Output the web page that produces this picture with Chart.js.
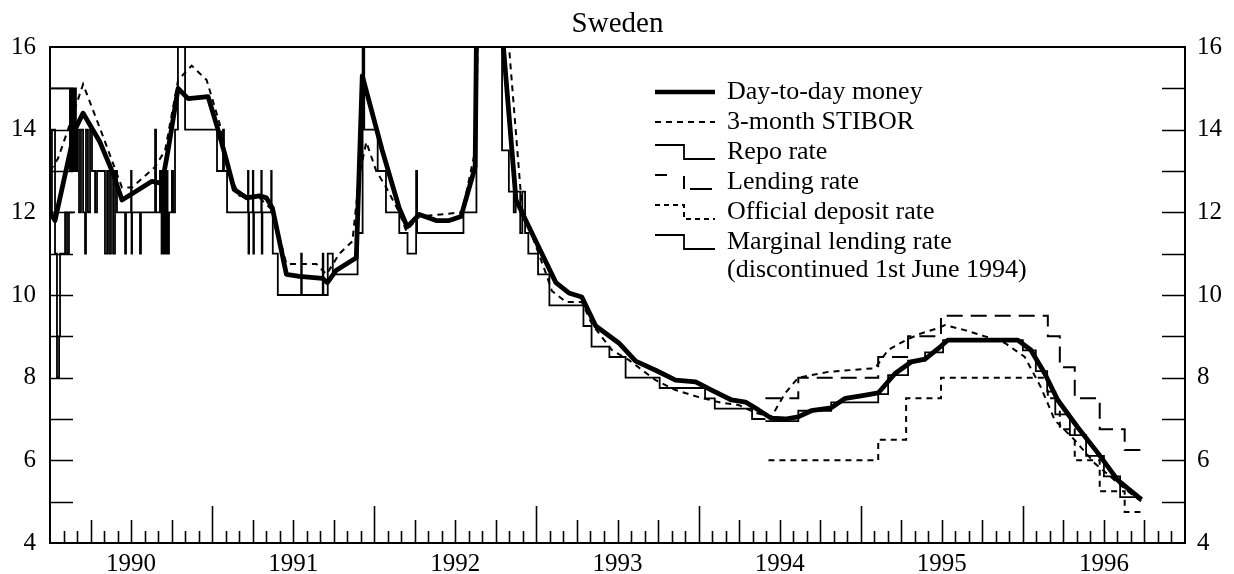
<!DOCTYPE html>
<html>
<head>
<meta charset="utf-8">
<script src="https://cdn.jsdelivr.net/npm/chart.js@4.4.0/dist/chart.umd.min.js"></script>
<style>
html, body { margin: 0; padding: 0; background: #fff; }
</style>
</head>
<body>
<canvas id="myChart" width="1234" height="574"></canvas>
<script>
// Day-to-day money
var dtdYears = [1990.000, 1990.031, 1990.154, 1990.204, 1990.308, 1990.388, 1990.444, 1990.506, 1990.629, 1990.691,
  1990.728, 1990.790, 1990.852, 1990.975, 1991.036, 1991.089, 1991.136, 1991.212, 1991.292,
  1991.335, 1991.372, 1991.458, 1991.538, 1991.680, 1991.711, 1991.766, 1991.889, 1991.926, 1992.049,
  1992.154, 1992.203, 1992.277, 1992.382, 1992.462, 1992.535, 1992.622, 1992.640, 1992.775, 1992.790, 1992.874,
  1992.972, 1993.120, 1993.200, 1993.280, 1993.366, 1993.508, 1993.612, 1993.735, 1993.858, 1993.982,
  1994.080, 1994.203, 1994.289, 1994.369, 1994.449, 1994.535, 1994.615, 1994.695, 1994.818, 1994.905,
  1995.003, 1995.108, 1995.212, 1995.311, 1995.397, 1995.477, 1995.538, 1995.969, 1996.049, 1996.135,
  1996.215, 1996.338, 1996.462, 1996.585, 1996.732];
var dtdValues = [12.0, 11.8, 14.0, 14.4, 13.7, 12.95, 12.3, 12.45, 12.75, 12.7,
  13.5, 15.0, 14.75, 14.8, 14.0, 13.25, 12.55, 12.35, 12.4,
  12.35, 12.1, 10.5, 10.45, 10.4, 10.3, 10.6, 10.9, 15.3, 13.5,
  12.1, 11.65, 11.95, 11.8, 11.8, 11.9, 13.1, 20, 20, 16.3, 12.3,
  11.5, 10.3, 10.05, 9.95, 9.25, 8.84, 8.4, 8.18, 7.94, 7.9,
  7.7, 7.46, 7.41, 7.22, 7.02, 7.0, 7.05, 7.2, 7.27, 7.5,
  7.56, 7.63, 8.1, 8.38, 8.45, 8.7, 8.91, 8.91, 8.67, 8.1,
  7.46, 6.8, 6.18, 5.52, 5.05];

// 3-month STIBOR
var stiborYears = [1990.000, 1990.049, 1990.111, 1990.204, 1990.321, 1990.444, 1990.506, 1990.648, 1990.710,
  1990.790, 1990.874, 1990.966, 1991.046, 1991.108, 1991.169, 1991.292, 1991.372, 1991.458, 1991.643,
  1991.705, 1991.785, 1991.865, 1991.908, 1991.951, 1992.012, 1992.074, 1992.154, 1992.197, 1992.277,
  1992.542, 1992.628, 1992.652, 1992.788, 1992.831, 1992.911, 1993.058, 1993.095, 1993.182, 1993.280,
  1993.342, 1993.465, 1993.569, 1993.735, 1993.858, 1994.000, 1994.142, 1994.246, 1994.351, 1994.449,
  1994.535, 1994.615, 1994.800, 1995.089, 1995.169, 1995.274, 1995.372, 1995.477, 1995.520, 1995.643,
  1995.766, 1995.889, 1996.012, 1996.111, 1996.197, 1996.320, 1996.443, 1996.566, 1996.665, 1996.732];
var stiborValues = [13.0, 13.3, 14.0, 15.1, 13.9, 12.6, 12.6, 13.1, 13.5,
  15.2, 15.55, 15.2, 14.15, 12.9, 12.4, 12.35, 12.05, 10.75, 10.75,
  10.5, 11.0, 11.3, 12.9, 13.7, 13.0, 12.6, 12.0, 11.55, 11.9,
  12.0, 13.6, 20, 20, 16, 12.1, 10.53, 10.1, 9.83, 9.83,
  9.3, 8.67, 8.43, 7.94, 7.7, 7.53, 7.39, 7.34, 7.15, 7.05,
  7.63, 8.0, 8.14, 8.23, 8.67, 8.9, 9.07, 9.2, 9.27, 9.15,
  9.0, 8.84, 8.5, 7.77, 6.97, 6.49, 5.93, 5.52, 5.2, 5.0];

// Repo rate (step, value holds until next date)
var repoYears = [1990.000, 1990.012, 1990.031, 1990.043, 1990.056, 1990.062, 1990.093, 1990.105, 1990.117, 1990.154, 1990.155,
  1994.412, 1994.615, 1994.818, 1995.108, 1995.169, 1995.292, 1995.397, 1995.508, 1996.000, 1996.080,
  1996.150, 1996.200, 1996.290, 1996.390, 1996.500, 1996.600, 1996.732];
var repoValues = [12, 14, 11, 8, 9, 11, 12, 11, 12, 12, null,
  6.95, 7.2, 7.4, 7.6, 8.06, 8.41, 8.61, 8.91, 8.66, 8.16,
  7.66, 7.11, 6.61, 6.11, 5.61, 5.11, 5.11];

// Lending rate (step)
var lendYears = [1994.412, 1994.615, 1995.108, 1995.292, 1995.495, 1996.154, 1996.228, 1996.320, 1996.474, 1996.628, 1996.738];
var lendValues = [7.5, 8.0, 8.5, 9.0, 9.5, 9.0, 8.25, 7.5, 6.75, 6.25, 6.25];

// Official deposit rate (step)
var depYears = [1994.431, 1995.108, 1995.280, 1995.495, 1996.154, 1996.228, 1996.320, 1996.474, 1996.628, 1996.738];
var depValues = [6.0, 6.5, 7.5, 8.0, 7.5, 6.75, 6.0, 5.25, 4.75, 4.75];

// Marginal lending rate (step, discontinued 1 June 1994)
var margYears = [1990.000, 1990.123, 1990.133, 1990.142, 1990.151, 1990.160, 1990.167, 1990.179, 1990.191, 1990.204,
  1990.216, 1990.222, 1990.234, 1990.247, 1990.259, 1990.278, 1990.290, 1990.339, 1990.352, 1990.364,
  1990.376, 1990.389, 1990.401, 1990.413, 1990.463, 1990.469, 1990.500, 1990.503, 1990.506, 1990.555,
  1990.561, 1990.648, 1990.654, 1990.678, 1990.688, 1990.697, 1990.706, 1990.715, 1990.725, 1990.734,
  1990.752, 1990.759, 1990.771, 1990.789, 1990.833, 1991.030, 1991.067, 1991.073, 1991.092,
  1991.221, 1991.224, 1991.228, 1991.251, 1991.254, 1991.258, 1991.303, 1991.306, 1991.310, 1991.364,
  1991.367, 1991.374, 1991.405, 1991.549, 1991.553, 1991.682, 1991.686, 1991.713, 1991.744, 1991.897,
  1991.928, 1991.938, 1992.021, 1992.072, 1992.154, 1992.205, 1992.258, 1992.264, 1992.550, 1992.630,
  1992.788, 1992.830, 1992.860, 1992.872, 1992.900, 1992.913, 1992.930, 1992.950, 1993.010, 1993.080,
  1993.290, 1993.340, 1993.450, 1993.550, 1993.760, 1994.040, 1994.100, 1994.330, 1994.412];
var margValues = [15, 13, 15, 13, 15, 13, 14, 12, 14, 12,
  11, 14, 12, 14, 13, 12, 13, 11, 13, 11,
  13, 11, 13, 12, 11, 12, 13, 11, 12, 11,
  12, 14, 12, 13, 11, 13, 11, 13, 11, 12,
  13, 12, 14, 20, 14, 13, 14, 13, 12,
  13, 11, 12, 13, 11, 12, 13, 11, 12, 13,
  12, 11, 10, 11, 10, 11, 10, 11, 10.5, 11.5,
  20, 14, 13, 12, 11.5, 11, 13, 11.5, 12, 20,
  13.5, 12.5, 12.0, 12.5, 11.5, 12.5, 11.5, 11.0, 10.5, 9.75,
  9.25, 8.75, 8.5, 8.0, 7.75, 7.5, 7.25, 7.0, 7.0];

var yearLabels = ['1990', '1991', '1992', '1993', '1994', '1995', '1996'];
var yTickLabels = [4, 6, 8, 10, 12, 14, 16];

var legendLabels = ['Day-to-day money', '3-month STIBOR', 'Repo rate', 'Lending rate',
  'Official deposit rate', 'Marginal lending rate', '(discontinued 1st June 1994)'];

function toPoints(xs, vs) {
  return xs.map(function (x, i) { return { x: x, y: vs[i] }; });
}

var serif = '"Liberation Serif", "Times New Roman", serif';

var decorations = {
  id: 'decorations',
  afterDraw: function (chart) {
    var ctx = chart.ctx, area = chart.chartArea;
    var xs = chart.scales.x, ys = chart.scales.y;
    ctx.save();
    ctx.strokeStyle = '#000';
    ctx.fillStyle = '#000';
    ctx.lineWidth = 2;
    ctx.beginPath();
    ctx.moveTo(area.left, area.top);
    ctx.lineTo(area.right, area.top);
    ctx.stroke();

    // inward y ticks, every integer, both sides
    ctx.lineWidth = 1.6;
    for (var v = 5; v <= 15; v++) {
      var py = Math.round(ys.getPixelForValue(v)) + 0.5;
      ctx.beginPath();
      ctx.moveTo(area.left, py); ctx.lineTo(area.left + 23, py);
      ctx.moveTo(area.right - 23, py); ctx.lineTo(area.right, py);
      ctx.stroke();
    }
    // inward x ticks: months, quarters, years
    for (var m = 1; m < 84; m++) {
      var px = Math.round(xs.getPixelForValue(1990 + m / 12)) + 0.5;
      var len = (m % 12 === 0) ? 37 : ((m % 3 === 0) ? 23 : 12);
      ctx.beginPath();
      ctx.moveTo(px, area.bottom);
      ctx.lineTo(px, area.bottom - len);
      ctx.stroke();
    }

    // title
    ctx.font = '29px ' + serif;
    ctx.textAlign = 'center';
    ctx.textBaseline = 'middle';
    ctx.fillText('Sweden', (area.left + area.right) / 2, 24);

    // legend
    ctx.font = '26px ' + serif;
    var rows = [92, 122, 152, 182, 212, 242, 270];
    var x0 = 655, x1 = 715, xm = 684;
    ctx.textAlign = 'left';
    for (var i = 0; i < legendLabels.length; i++) {
      ctx.fillText(legendLabels[i], 727, rows[i]);
    }
    var y;
    // day-to-day
    y = rows[0];
    ctx.setLineDash([]);
    ctx.lineWidth = 4.5;
    ctx.beginPath(); ctx.moveTo(x0, y); ctx.lineTo(x1, y); ctx.stroke();
    // stibor
    y = rows[1];
    ctx.lineWidth = 2;
    ctx.setLineDash([6, 5]);
    ctx.beginPath(); ctx.moveTo(x0, y); ctx.lineTo(x1, y); ctx.stroke();
    // repo + marginal
    ctx.setLineDash([]);
    ctx.lineWidth = 1.8;
    [rows[2], rows[5]].forEach(function (yy) {
      ctx.beginPath();
      ctx.moveTo(x0, yy - 7); ctx.lineTo(xm, yy - 7); ctx.lineTo(xm, yy + 7); ctx.lineTo(x1, yy + 7);
      ctx.stroke();
    });
    // lending
    y = rows[3];
    ctx.lineWidth = 2;
    ctx.beginPath();
    ctx.moveTo(x0, y - 7); ctx.lineTo(x0 + 12, y - 7);
    ctx.moveTo(xm, y - 6); ctx.lineTo(xm, y + 7);
    ctx.moveTo(xm + 6, y + 7); ctx.lineTo(x1 - 3, y + 7);
    ctx.stroke();
    // official deposit
    y = rows[4];
    ctx.setLineDash([5, 4]);
    ctx.beginPath();
    ctx.moveTo(x0, y - 7); ctx.lineTo(xm, y - 7); ctx.lineTo(xm, y + 7); ctx.lineTo(x1, y + 7);
    ctx.stroke();
    ctx.restore();
  }
};

var ctx = document.getElementById('myChart').getContext('2d');
var chart = new Chart(ctx, {
  type: 'line',
  data: {
    datasets: [
      { label: 'Day-to-day money', data: toPoints(dtdYears, dtdValues),
        borderColor: '#000', borderWidth: 4.8, borderJoinStyle: 'round', pointRadius: 0 },
      { label: '3-month STIBOR', data: toPoints(stiborYears, stiborValues),
        borderColor: '#000', borderWidth: 2, borderDash: [6, 5], pointRadius: 0 },
      { label: 'Repo rate', data: toPoints(repoYears, repoValues), stepped: 'before',
        borderColor: '#000', borderWidth: 1.8, pointRadius: 0, spanGaps: false },
      { label: 'Lending rate', data: toPoints(lendYears, lendValues), stepped: 'before',
        borderColor: '#000', borderWidth: 2, borderDash: [16, 8], pointRadius: 0 },
      { label: 'Official deposit rate', data: toPoints(depYears, depValues), stepped: 'before',
        borderColor: '#000', borderWidth: 2, borderDash: [6, 5], pointRadius: 0 },
      { label: 'Marginal lending rate', data: toPoints(margYears, margValues), stepped: 'before',
        borderColor: '#000', borderWidth: 1.8, pointRadius: 0 }
    ]
  },
  options: {
    responsive: false,
    animation: false,
    devicePixelRatio: 1,
    layout: { padding: { top: 47, left: 0, right: 0, bottom: 0 } },
    plugins: { legend: { display: false }, tooltip: { enabled: false } },
    scales: {
      x: {
        type: 'linear', min: 1990, max: 1997,
        grid: { display: false, drawTicks: false },
        border: { display: true, color: '#000', width: 2 },
        afterBuildTicks: function (scale) {
          scale.ticks = yearLabels.map(function (l) { return { value: Number(l) + 0.5 }; });
        },
        ticks: {
          autoSkip: false, maxRotation: 0, padding: 6, color: '#000',
          font: { family: serif, size: 25 },
          callback: function (value) { return String(Math.floor(value)); }
        },
        afterFit: function (scale) { scale.height = 31; }
      },
      y: {
        position: 'left', min: 4, max: 16,
        grid: { display: false, drawTicks: false },
        border: { display: true, color: '#000', width: 2 },
        afterBuildTicks: function (scale) {
          scale.ticks = yTickLabels.map(function (v) { return { value: v }; });
        },
        ticks: { padding: 14, color: '#000', font: { family: serif, size: 25 } },
        afterFit: function (scale) { scale.width = 50; }
      },
      y2: {
        position: 'right', min: 4, max: 16,
        grid: { display: false, drawTicks: false },
        border: { display: true, color: '#000', width: 2 },
        afterBuildTicks: function (scale) {
          scale.ticks = yTickLabels.map(function (v) { return { value: v }; });
        },
        ticks: { padding: 12, color: '#000', font: { family: serif, size: 25 } },
        afterFit: function (scale) { scale.width = 49; }
      }
    }
  },
  plugins: [decorations]
});
</script>
</body>
</html>
